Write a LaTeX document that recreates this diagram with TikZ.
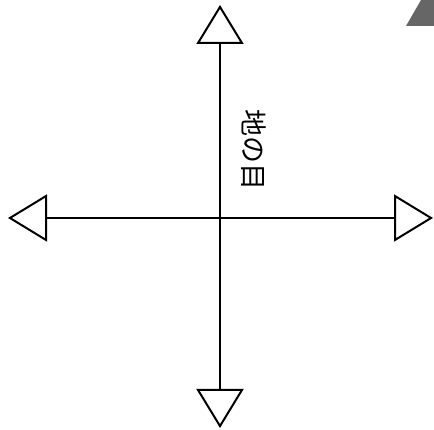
\documentclass[tikz,border=0pt]{standalone}
\usepackage{fontspec}
\newfontfamily\cjk{Noto Sans CJK JP}
\usetikzlibrary{arrows.meta, positioning}
\tikzset{
    axis/.style = {draw, line width=2pt, -{Triangle[open, length=39pt, width=47pt, line width=2pt]}},
    label/.style = {font=\cjk\fontsize{27}{30}\selectfont, rotate=-90, inner sep=0pt},
    corner/.style = {fill=black!60, draw=none}
}
\begin{document}
\begin{tikzpicture}[x=1pt, y=-1pt]
        \useasboundingbox (0,0) rectangle (434,430);
        % Centre and ends
        \coordinate (centre) at (220,218);
        \coordinate (top) at (220,5);
        \coordinate (bottom) at (220,428);
        \coordinate (left) at (8,218);
        \coordinate (right) at (433,218);

        % Arms
        \path [axis] (centre) -- (top);
        \path [axis] (centre) -- (bottom);
        \path [axis] (centre) -- (left);
        \path [axis] (centre) -- (right);

        % Label
        \node [label] (grain) at (254,150) {地の目};

        % Corner mark
        \fill [corner] (406,26) -- (421,0) -- (434,0) -- (434,26) -- cycle;
    \end{tikzpicture}
\end{document}
